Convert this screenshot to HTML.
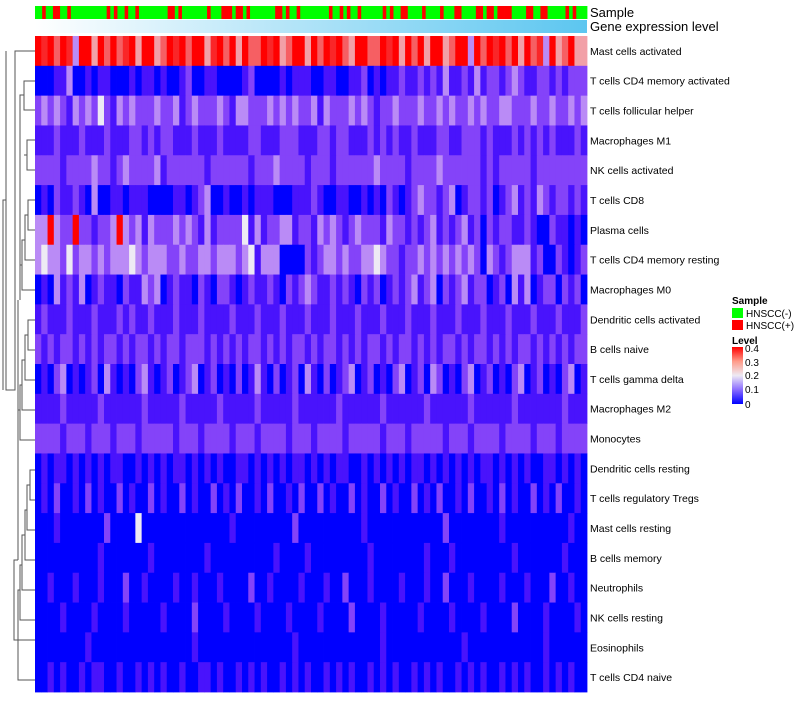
<!DOCTYPE html>
<html><head><meta charset="utf-8"><style>
body{margin:0;background:#fff;font-family:"Liberation Sans",sans-serif}
</style></head><body>
<svg id="c" width="800" height="700" xmlns="http://www.w3.org/2000/svg">
<defs><linearGradient id="ge" x1="0" x2="1"><stop offset="0" stop-color="#ffffff"/><stop offset="1" stop-color="#5cc6f0"/></linearGradient>
<linearGradient id="lv" x1="0" y1="1" x2="0" y2="0"><stop offset="0" stop-color="#0000ff"/><stop offset="0.25" stop-color="#8a6cff"/><stop offset="0.5" stop-color="#eeeaf4"/><stop offset="0.75" stop-color="#ff9a88"/><stop offset="1" stop-color="#ff0000"/></linearGradient></defs>
<g id="dend" stroke="#555" stroke-width="1" fill="none">
<path d="M35 51H15V390H6V51"/>
<path d="M35 81H24V110H35"/>
<path d="M6 200H3V390"/>
<path d="M24 95H20V300"/>
<path d="M35 140H27V170H35"/>
<path d="M27 155H24"/>
<path d="M35 200H28V230H35M28 215H25V260H35M25 240H22V290H35M22 265H20"/>
<path d="M35 320H28V350H35M28 335H25V380H35M25 360H22V410H35M22 385H20V440H35M20 410H18"/>
<path d="M18 300V560M18 560H14V640H35"/>
<path d="M35 470H30V500H35M30 485H27V530H35M27 510H25V560H35M25 535H22V590H35M22 565H20V620H35M20 590H18V680H35"/>
</g>
<g id="cells"></g>
<rect x="35" y="20" width="552" height="13" fill="url(#ge)"/>
<text x="590" y="17" font-size="13">Sample</text>
<text x="590" y="31" font-size="13">Gene expression level</text>
<g id="labels" font-size="10.5" fill="#000"></g>
<g>
<text x="732" y="304" font-size="10" font-weight="bold">Sample</text>
<rect x="732" y="308" width="11" height="10" fill="#00ff00"/>
<text x="746" y="317" font-size="10">HNSCC(-)</text>
<rect x="732" y="320" width="11" height="10" fill="#ff0000"/>
<text x="746" y="329" font-size="10">HNSCC(+)</text>
<text x="732" y="344" font-size="10" font-weight="bold">Level</text>
<rect x="732" y="347" width="11" height="57" fill="url(#lv)"/>
<g font-size="10">
<text x="745" y="352">0.4</text><text x="745" y="366">0.3</text><text x="745" y="379">0.2</text><text x="745" y="393">0.1</text><text x="745" y="408">0</text>
</g></g>
</svg>
<script>
const rowNames=["Mast cells activated","T cells CD4 memory activated","T cells follicular helper","Macrophages M1","NK cells activated","T cells CD8","Plasma cells","T cells CD4 memory resting","Macrophages M0","Dendritic cells activated","B cells naive","T cells gamma delta","Macrophages M2","Monocytes","Dendritic cells resting","T cells regulatory  Tregs","Mast cells resting","B cells memory","Neutrophils","NK cells resting","Eosinophils","T cells CD4 naive"];
const sampleGroup="0010011001000000000010100100100000000110100000001000111011010000000110100100000000100101001000000101001100001000010001100001101101111000011001100000101000";
const rowValues=[
"8786873885868678588568786885786858668785688586878658866878586858856883868786858673856855",
"0001130010110001011010012001100001200001011100110011201011211212131121312212321122121222",
"2323213232421323222322312322232133222323232231322232321223222322323223232233222322322323",
"1112111211121112212122111211121111221112221112212211121212112111221122212111212121211121",
"2222122223221232222312222221222222122232222122212222223222212222322222212122222122222222",
"0102112103001101110000110123001001011100011121001100101021012322123012212012312132122121",
"3383228221223832313222323213122224131223312213232123222132212123121231202122112100211010",
"3433242332323334323332232233233323413330000212332322334322122323232323203212333120021012",
"0103121301211021132301211021022101211210212321121210212012123123021231220120313012202120",
"1211121112111212112111211121111211121112111211121112111211121112111211121112111211121112",
"2121221212122121221212212221212121221212122121221212122121221212122121221212122121212122",
"0102301012031010231012012301201020131020120310201230120102301203201023012010230120102301",
"1111211111211111121111121111121111121111121111112111111211111121111112111111211111112111",
"2222122212221222122222122212222122212222122212222122222122212222212221222212222122212222",
"0101101010101100101010110101010011010101011010101100101010101101010101011010101001101010",
"0102001020100201002010020100201020010200102002010020100201002010200102001020100201020010",
"0001000000020000400000000000000100000000020000000000100000000000020000000010000000000100",
"0000000000100000001000000001000000000010000100000000010000000010001000000000100000001000",
"0010001000100020010000100100010000200100001000100200010000100010020001000010001000200100",
"0000100001000010000010000200001000010000100001000020000100000100001000010000200001000010",
"0000000010000000000000000100000000000000010000000000000100000000000010000000000001000000",
"0010100101100100101010010011010010101001010100101010010101001010100101010010101001010100"];
const X0=35,X1=587,Y0=36,Y1=692,nRows=rowNames.length,rowH=(Y1-Y0)/nRows;
function colorScale(v){v=Math.max(0,Math.min(0.4,v));let r,g,b;
 if(v<0.2){const t=v/0.2;r=238*Math.pow(t,0.85);g=234*Math.pow(t,1.8);b=255-t*11;}
 else{const t=(v-0.2)/0.2;r=238+t*17;g=234*Math.pow(1-t,1.3);b=244*Math.pow(1-t,1.3);}
 return `rgb(${r|0},${g|0},${b|0})`;}
function yScale(i){return Y0+i*rowH;}
const NS="http://www.w3.org/2000/svg",cells=document.getElementById('cells'),labels=document.getElementById('labels');
const sw=(X1-X0)/sampleGroup.length;
for(let j=0;j<sampleGroup.length;j++){const r=document.createElementNS(NS,'rect');
 r.setAttribute('x',X0+j*sw);r.setAttribute('y',6);r.setAttribute('width',sw+0.4);r.setAttribute('height',13);
 r.setAttribute('fill',sampleGroup[j]==='1'?'#ff0000':'#00ff00');
 
 
 cells.appendChild(r);}
rowValues.forEach((s,i)=>{const w=(X1-X0)/s.length;
 for(let j=0;j<s.length;j++){const v=(+s[j])*0.05;const r=document.createElementNS(NS,'rect');
  r.setAttribute('x',X0+j*w);r.setAttribute('y',yScale(i));r.setAttribute('width',w+0.4);r.setAttribute('height',rowH+0.4);
  r.setAttribute('fill',colorScale(v));
  
  
  cells.appendChild(r);}
 const t=document.createElementNS(NS,'text');t.setAttribute('x',590);t.setAttribute('y',yScale(i)+rowH/2+4);t.textContent=rowNames[i];
 
 
 labels.appendChild(t);});
</script>
</body></html>
